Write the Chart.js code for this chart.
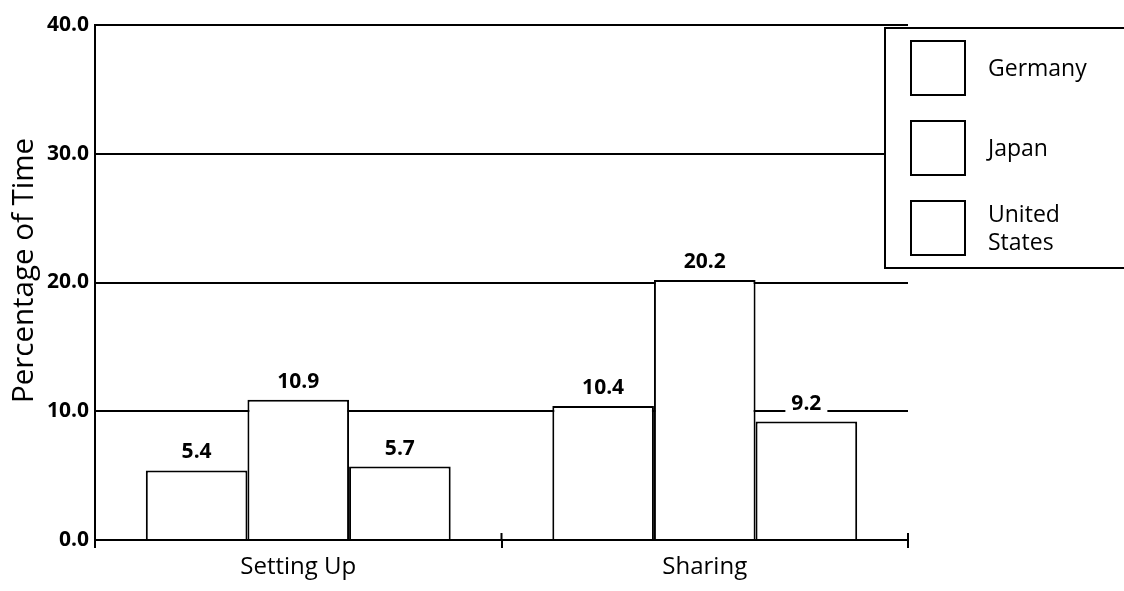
<!DOCTYPE html>
<html>
<head>
<meta charset="utf-8">
<script src="https://cdn.jsdelivr.net/npm/chart.js@4/dist/chart.umd.min.js"></script>
<style>
  html, body { margin: 0; padding: 0; background: #fff; }
  #wrap { width: 1124px; height: 591px; }
</style>
</head>
<body>
<div id="wrap"><canvas id="c" width="1124" height="591"></canvas></div>
<script>
const categories = ['Setting Up', 'Sharing'];
const germany = [5.4, 10.4];
const japan = [10.9, 20.2];
const unitedStates = [5.7, 9.2];
const seriesNames = ['Germany', 'Japan', 'United States'];
const yTicks = [0, 10, 20, 30, 40];
const yTitle = 'Percentage of Time';

const FONT = "'Open Sans', 'Noto Sans', sans-serif";

const barLabels = {
  id: 'barLabels',
  afterDatasetsDraw(chart) {
    const ctx = chart.ctx;
    ctx.save();
    ctx.font = 'bold 21px ' + FONT;
    ctx.textAlign = 'center';
    ctx.textBaseline = 'middle';
    chart.data.datasets.forEach((ds, di) => {
      const meta = chart.getDatasetMeta(di);
      meta.data.forEach((el, i) => {
        const txt = ds.data[i].toFixed(1);
        const w = ctx.measureText(txt).width;
        const cy = el.y - 18;
        ctx.fillStyle = '#fff';
        ctx.fillRect(el.x - w / 2 - 6, cy - 10, w + 12, 20);
        ctx.fillStyle = '#000';
        ctx.fillText(txt, el.x, cy);
      });
    });
    ctx.restore();
  }
};

const extras = {
  id: 'extras',
  afterDraw(chart) {
    const ctx = chart.ctx;
    const xs = chart.scales.x, ys = chart.scales.y;
    ctx.save();
    // x ticks extending above the axis
    ctx.strokeStyle = '#000';
    ctx.lineWidth = 2;
    const n = categories.length;
    for (let i = 1; i <= n; i++) {
      const x = xs.left + i * xs.width / n;
      ctx.beginPath();
      ctx.moveTo(x, xs.top - 7);
      ctx.lineTo(x, xs.top);
      ctx.stroke();
    }
    // y axis title
    ctx.fillStyle = '#000';
    ctx.font = '500 29.5px ' + FONT;
    ctx.textAlign = 'center';
    ctx.textBaseline = 'alphabetic';
    ctx.translate(33, (ys.getPixelForValue(40) + ys.getPixelForValue(0)) / 2 - 12);
    ctx.rotate(-Math.PI / 2);
    ctx.fillText(yTitle, 0, 0);
    ctx.restore();

    // legend
    ctx.save();
    const lx = chart.chartArea.right - 23;
    const ly = ys.getPixelForValue(40) + 3;
    const lb = 268;
    ctx.fillStyle = '#fff';
    ctx.fillRect(lx, ly, chart.width - lx + 10, lb - ly);
    ctx.strokeStyle = '#000';
    ctx.lineWidth = 2;
    ctx.strokeRect(lx, ly, chart.width - lx + 10, lb - ly);
    ctx.font = '500 23px ' + FONT;
    ctx.textAlign = 'left';
    ctx.textBaseline = 'middle';
    chart.data.datasets.forEach((ds, i) => {
      const bx = lx + 26, by = ly + 13 + i * 80, s = 54;
      ctx.fillStyle = ds.backgroundColor;
      ctx.fillRect(bx, by, s, s);
      ctx.strokeStyle = ds.borderColor;
      ctx.strokeRect(bx, by, s, s);
      ctx.fillStyle = '#000';
      const words = ds.label.split(' ');
      let lines = [ds.label];
      if (ctx.measureText(ds.label).width > 115) lines = words;
      const lh = 28;
      const cy = by + s / 2 + 1;
      lines.forEach((t, k) => {
        ctx.fillText(t, bx + s + 23, cy + (k - (lines.length - 1) / 2) * lh);
      });
    });
    ctx.restore();
  }
};

const seriesData = [germany, japan, unitedStates];
new Chart(document.getElementById('c'), {
  type: 'bar',
  data: {
    labels: categories,
    datasets: seriesNames.map((name, i) => ({
      label: name,
      data: seriesData[i],
      backgroundColor: '#ffffff',
      borderColor: '#000000',
      borderWidth: 2,
      categoryPercentage: 0.75,
      barPercentage: 1.0
    }))
  },
  options: {
    responsive: false,
    animation: false,
    devicePixelRatio: 1,
    layout: { padding: { top: 25, right: 216, left: 0, bottom: 0 } },
    plugins: { legend: { display: false }, tooltip: { enabled: false } },
    scales: {
      y: {
        min: 0, max: 40,
        afterBuildTicks(s) { s.ticks = yTicks.map(v => ({ value: v })); },
        afterFit(s) { s.width = 95; },
        ticks: {
          callback: v => Number(v).toFixed(1),
          color: '#000',
          font: { family: FONT, size: 21, weight: 'bold' },
          padding: 6
        },
        grid: { color: '#000', lineWidth: 2, drawTicks: false },
        border: { display: true, color: '#000', width: 2 }
      },
      x: {
        afterFit(s) { s.height = 51; },
        offset: true,
        ticks: {
          color: '#000',
          font: { family: FONT, size: 24, weight: '500' },
          padding: 5
        },
        grid: { display: true, drawOnChartArea: false, drawTicks: true, tickLength: 8, color: '#000', lineWidth: 2, offset: true },
        border: { display: true, color: '#000', width: 2 }
      }
    }
  },
  plugins: [barLabels, extras]
});
</script>
</body>
</html>
